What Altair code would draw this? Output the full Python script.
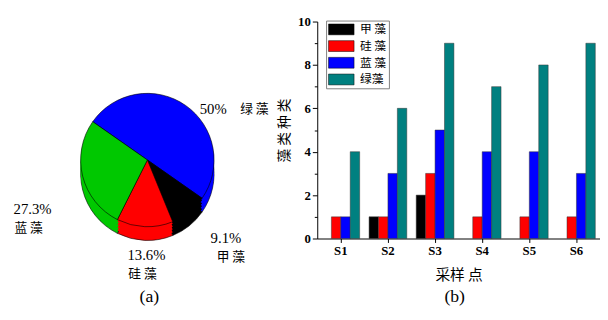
import math
import altair as alt
import pandas as pd

# ---------------- data ----------------
# pie (a): slices listed clockwise, starting at the upper-left boundary
pie_names = ["绿 藻", "甲 藻", "硅 藻", "蓝 藻"]
pie_pct = [50, 9.1, 13.6, 27.3]
pie_pct_labels = ["50%", "9.1%", "13.6%", "27.3%"]

# bars (b)
sites = ["S1", "S2", "S3", "S4", "S5", "S6"]
types = ["甲 藻", "硅 藻", "蓝 藻", "绿藻"]
dino = [0, 1, 2, 0, 0, 0]
diatom = [1, 1, 3, 1, 1, 1]
cyano = [1, 3, 5, 4, 4, 3]
greens = [4, 6, 9, 7, 8, 9]
y_ticks = list(range(0, 11))
panel_labels = ["(a)", "(b)"]

# ---------------- styles ----------------
pie_colors = ["#0000FF", "#000000", "#FF0000", "#00C800"]
bar_colors = ["#000000", "#FF0000", "#0000FF", "#008080"]
CJK = "Noto Sans CJK SC"

pie_df = pd.DataFrame({"idx": list(range(len(pie_names))), "name": pie_names,
                       "pct": pie_pct, "pct_label": pie_pct_labels})

bar_rows = []
for t, vals in zip(types, [dino, diatom, cyano, greens]):
    for s, v in zip(sites, vals):
        bar_rows.append({"site": s, "type": t, "count": v})
bar_df = pd.DataFrame(bar_rows)

# panel origins on the page: pie panel (8, 19), bar plot (~318, 19)
OX, OY = 8, 19

# ---------------- pie panel ----------------
start = 2 * math.pi - 0.96
R = 68
CX, CY = 150 - OX, 160 - OY
theta = alt.Theta("pct:Q", stack=True, scale=alt.Scale(range=[start, start + 2 * math.pi]))
pcolor = alt.Color("name:N", scale=alt.Scale(domain=pie_names, range=pie_colors), legend=None)
order = alt.Order("idx:Q")

pie_layers = []
for d, sw in [(14, 0.6), (11, 0), (8, 0), (5, 0), (2, 0), (0, 0.6)]:
    pie_layers.append(
        alt.Chart(pie_df).mark_arc(outerRadius=R, stroke="black", strokeWidth=sw).encode(
            theta=theta, color=pcolor, order=order,
            x=alt.value(CX), y=alt.value(CY + d))
    )

# label positions on the page (pct line, name line) per slice index
label_pos = {
    0: ((217, 108), (259, 108)),
    1: ((230, 240), (235, 259)),
    2: ((149, 257), (145, 276)),
    3: ((33, 210), (29, 229)),
}
for i, ((px, py), (nx, ny)) in label_pos.items():
    pie_layers.append(
        alt.Chart(pie_df).transform_filter(f"datum.idx == {i}").mark_text(
            font="Liberation Serif", fontSize=15, align="center", baseline="middle", color="black"
        ).encode(text="pct_label:N", x=alt.value(px - OX), y=alt.value(py - OY)))
    pie_layers.append(
        alt.Chart(pie_df).transform_filter(f"datum.idx == {i}").mark_text(
            font=CJK, fontSize=13, align="center", baseline="middle", color="black"
        ).encode(text="name:N", x=alt.value(nx - OX), y=alt.value(ny - OY)))

pie_layers.append(
    alt.Chart(pd.DataFrame({"t": [panel_labels[0]]})).mark_text(
        font="Liberation Serif", fontSize=18, align="center", baseline="middle", color="black"
    ).encode(text="t:N", x=alt.value(152 - OX), y=alt.value(300 - OY)))

pie_panel = alt.layer(*pie_layers).properties(
    width=315, height=280, view=alt.ViewBackground(fill="white", stroke=None)
)

# ---------------- bar panel ----------------
bars = alt.Chart(bar_df).transform_filter("datum.count > 0").mark_bar(
    stroke="#333333", strokeWidth=0.5
).encode(
    x=alt.X("site:N", sort=sites,
            scale=alt.Scale(paddingInner=0.2, paddingOuter=0.1),
            axis=alt.Axis(title="采样 点", labelAngle=0,
                          labelFont="Liberation Serif", labelFontWeight="bold",
                          labelFontSize=13, labelColor="black", labelPadding=2,
                          titleFont=CJK, titleFontSize=15, titleFontWeight="normal",
                          titleColor="black", titlePadding=11,
                          domainColor="black", tickColor="black", tickSize=4)),
    xOffset=alt.XOffset("type:N", sort=types, scale=alt.Scale(domain=types)),
    y=alt.Y("count:Q", scale=alt.Scale(domain=[0, 10]),
            axis=alt.Axis(title="藻 类 种 类", values=y_ticks, grid=False,
                          labelExpr="datum.value % 2 == 0 ? datum.label : ''",
                          tickSize={"condition": {"test": "datum.value % 2 == 0", "value": 5}, "value": 3},
                          labelFont="Liberation Serif", labelFontWeight="bold",
                          labelFontSize=13, labelColor="black", labelPadding=2,
                          titleFont=CJK, titleFontSize=14, titleFontWeight="normal",
                          titleColor="black", titlePadding=6,
                          domainColor="black", tickColor="black")),
    color=alt.Color("type:N", scale=alt.Scale(domain=types, range=bar_colors),
                    legend=alt.Legend(title=None, orient="none", legendX=9, legendY=-1,
                                      strokeColor="gray", fillColor="white", padding=2,
                                      symbolType="M-2,-0.85H2V0.85H-2Z", symbolSize=169,
                                      symbolOffset=6.5,
                                      symbolStrokeColor="black", symbolStrokeWidth=0.5,
                                      labelFont=CJK, labelFontSize=12, labelColor="black",
                                      rowPadding=3, labelOffset=12)),
)

b_label = alt.Chart(pd.DataFrame({"t": [panel_labels[1]]})).mark_text(
    font="Liberation Serif", fontSize=18, align="center", baseline="middle", color="black"
).encode(text="t:N", x=alt.value(458 - 318), y=alt.value(300 - OY))

bar_panel = alt.layer(bars, b_label).properties(width=288, height=221)

chart = alt.hconcat(pie_panel, bar_panel, spacing=0, bounds="flush").resolve_scale(
    color="independent"
).properties(
    padding={"left": 0, "top": 5, "right": 0, "bottom": 0}, background="white"
).configure_view(stroke=None)

chart.save("out.html", embed_options={"renderer": "svg", "actions": False})
